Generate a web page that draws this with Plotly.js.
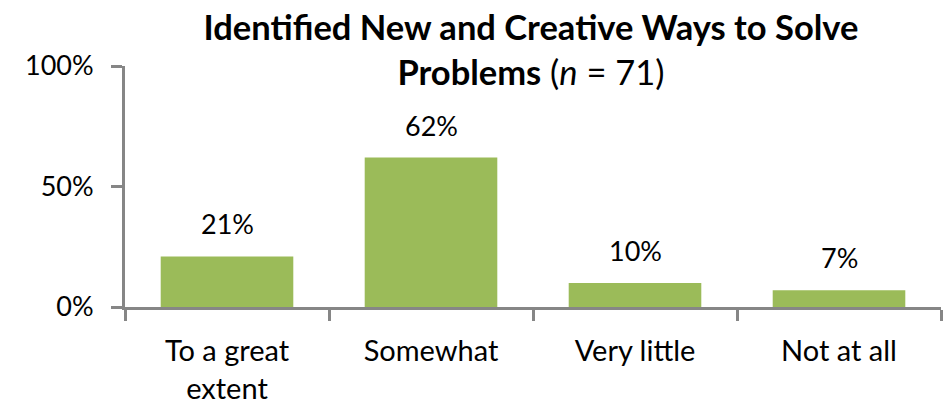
<!DOCTYPE html>
<html><head><meta charset="utf-8">
<script src="https://cdn.plot.ly/plotly-3.0.1.min.js"></script>
<style>html,body{margin:0;padding:0;background:#fff}</style>
</head><body>
<div id="chart" style="width:949px;height:403px"></div>
<script>
const categories = ["To a great<br>extent", "Somewhat", "Very little", "Not at all"];
const values = [21, 62, 10, 7];
const labels = ["21%", "62%", "10%", "7%"];
const yTickVals = [0, 50, 100];
const yTickText = ["0%", "50%", "100%"];

const FONT = "Lato, 'Open Sans', sans-serif";
const AXIS = "#868686";

const data = [{
  type: "bar",
  x: categories,
  y: values,
  marker: {color: "#9BBB59"},
  hoverinfo: "skip"
}];

const annotations = categories.map((c, i) => ({
  x: c, y: values[i], xref: "x", yref: "y",
  text: labels[i], showarrow: false, yanchor: "bottom", yshift: 14,
  font: {family: FONT, size: 27, color: "#000"}
}));

const layout = {
  width: 949, height: 403,
  margin: {l: 125, r: 8, t: 66, b: 96},
  paper_bgcolor: "#fff", plot_bgcolor: "#fff",
  showlegend: false,
  bargap: 0.35,
  font: {family: FONT, color: "#000"},
  title: {
    text: "<b>Identified New and Creative Ways to Solve<br>Problems</b> (<i>n</i> = 71)",
    font: {family: FONT, size: 34.5, color: "#000"},
    x: 0.5595, xanchor: "center", xref: "container",
    y: 0.9007, yanchor: "top", yref: "container"
  },
  xaxis: {
    type: "category",
    showline: true, linecolor: AXIS, linewidth: 3,
    ticks: "outside", tickson: "boundaries", ticklen: 11, tickwidth: 3, tickcolor: AXIS,
    ticklabelstandoff: 16,
    tickfont: {family: FONT, size: 29, color: "#000"},
    showgrid: false, zeroline: false
  },
  yaxis: {
    range: [0, 100],
    tickvals: yTickVals, ticktext: yTickText,
    showline: true, linecolor: AXIS, linewidth: 3,
    ticks: "outside", ticklen: 11, tickwidth: 3, tickcolor: AXIS,
    ticklabelstandoff: 12,
    tickfont: {family: FONT, size: 27, color: "#000"},
    showgrid: false, zeroline: false
  },
  annotations: annotations
};

Plotly.newPlot("chart", data, layout, {displayModeBar: false, staticPlot: true});
</script>
</body></html>
